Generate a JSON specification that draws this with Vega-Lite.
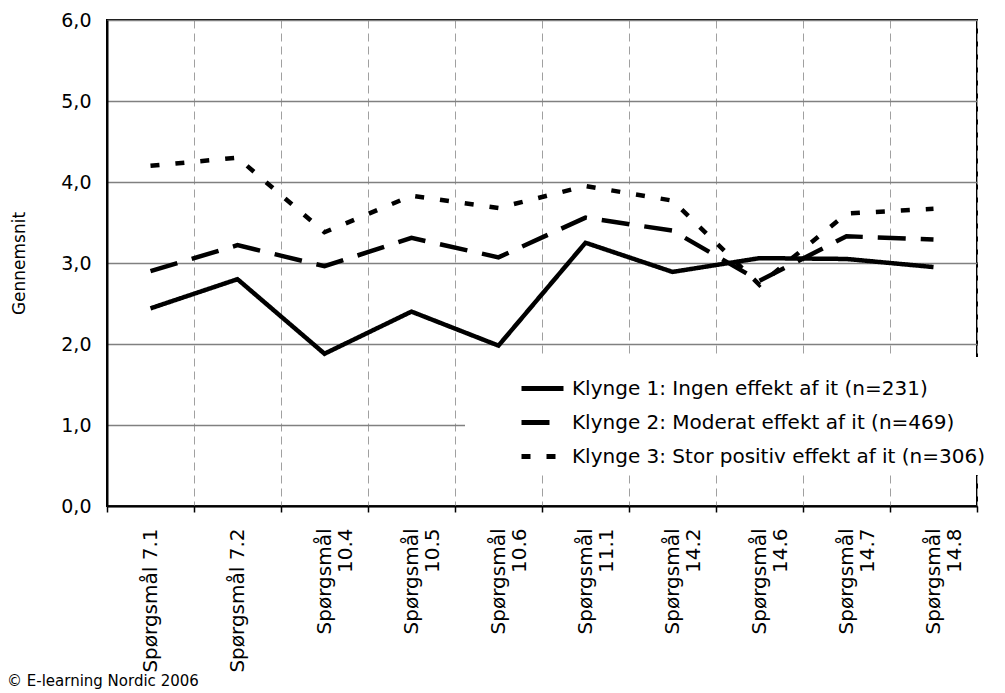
{
  "$schema": "https://vega.github.io/schema/vega-lite/v6.json",
  "width": 870,
  "height": 486,
  "autosize": "none",
  "padding": {"left": 107, "top": 20, "right": 28, "bottom": 187},
  "background": "white",
  "title": {
    "text": "© E-learning Nordic 2006",
    "orient": "bottom",
    "anchor": "start",
    "frame": "group",
    "dx": -100,
    "offset": 2,
    "font": "DejaVu Sans",
    "fontSize": 15,
    "fontWeight": "normal",
    "color": "black"
  },
  "config": {
    "font": "DejaVu Sans",
    "view": {"stroke": "black", "strokeWidth": 2}
  },
  "data": {
    "values": [
      {"q": "Spørgsmål 7.1", "k": "Klynge 1: Ingen effekt af it (n=231)", "v": 2.44},
      {"q": "Spørgsmål 7.2", "k": "Klynge 1: Ingen effekt af it (n=231)", "v": 2.80},
      {"q": "Spørgsmål 10.4", "k": "Klynge 1: Ingen effekt af it (n=231)", "v": 1.88},
      {"q": "Spørgsmål 10.5", "k": "Klynge 1: Ingen effekt af it (n=231)", "v": 2.40},
      {"q": "Spørgsmål 10.6", "k": "Klynge 1: Ingen effekt af it (n=231)", "v": 1.98},
      {"q": "Spørgsmål 11.1", "k": "Klynge 1: Ingen effekt af it (n=231)", "v": 3.25},
      {"q": "Spørgsmål 14.2", "k": "Klynge 1: Ingen effekt af it (n=231)", "v": 2.89},
      {"q": "Spørgsmål 14.6", "k": "Klynge 1: Ingen effekt af it (n=231)", "v": 3.06},
      {"q": "Spørgsmål 14.7", "k": "Klynge 1: Ingen effekt af it (n=231)", "v": 3.05},
      {"q": "Spørgsmål 14.8", "k": "Klynge 1: Ingen effekt af it (n=231)", "v": 2.95},
      {"q": "Spørgsmål 7.1", "k": "Klynge 2: Moderat effekt af it (n=469)", "v": 2.90},
      {"q": "Spørgsmål 7.2", "k": "Klynge 2: Moderat effekt af it (n=469)", "v": 3.22},
      {"q": "Spørgsmål 10.4", "k": "Klynge 2: Moderat effekt af it (n=469)", "v": 2.96},
      {"q": "Spørgsmål 10.5", "k": "Klynge 2: Moderat effekt af it (n=469)", "v": 3.31},
      {"q": "Spørgsmål 10.6", "k": "Klynge 2: Moderat effekt af it (n=469)", "v": 3.07},
      {"q": "Spørgsmål 11.1", "k": "Klynge 2: Moderat effekt af it (n=469)", "v": 3.56},
      {"q": "Spørgsmål 14.2", "k": "Klynge 2: Moderat effekt af it (n=469)", "v": 3.40},
      {"q": "Spørgsmål 14.6", "k": "Klynge 2: Moderat effekt af it (n=469)", "v": 2.78},
      {"q": "Spørgsmål 14.7", "k": "Klynge 2: Moderat effekt af it (n=469)", "v": 3.33},
      {"q": "Spørgsmål 14.8", "k": "Klynge 2: Moderat effekt af it (n=469)", "v": 3.29},
      {"q": "Spørgsmål 7.1", "k": "Klynge 3: Stor positiv effekt af it (n=306)", "v": 4.20},
      {"q": "Spørgsmål 7.2", "k": "Klynge 3: Stor positiv effekt af it (n=306)", "v": 4.30},
      {"q": "Spørgsmål 10.4", "k": "Klynge 3: Stor positiv effekt af it (n=306)", "v": 3.38},
      {"q": "Spørgsmål 10.5", "k": "Klynge 3: Stor positiv effekt af it (n=306)", "v": 3.83},
      {"q": "Spørgsmål 10.6", "k": "Klynge 3: Stor positiv effekt af it (n=306)", "v": 3.68},
      {"q": "Spørgsmål 11.1", "k": "Klynge 3: Stor positiv effekt af it (n=306)", "v": 3.95},
      {"q": "Spørgsmål 14.2", "k": "Klynge 3: Stor positiv effekt af it (n=306)", "v": 3.77},
      {"q": "Spørgsmål 14.6", "k": "Klynge 3: Stor positiv effekt af it (n=306)", "v": 2.73},
      {"q": "Spørgsmål 14.7", "k": "Klynge 3: Stor positiv effekt af it (n=306)", "v": 3.61},
      {"q": "Spørgsmål 14.8", "k": "Klynge 3: Stor positiv effekt af it (n=306)", "v": 3.67}
    ]
  },
  "mark": {"type": "line", "color": "black", "strokeWidth": 4.5, "strokeCap": "butt"},
  "encoding": {
    "x": {
      "field": "q",
      "type": "nominal",
      "sort": null,
      "scale": {"type": "band", "paddingInner": 0, "paddingOuter": 0},
      "axis": {
        "title": null,
        "tickBand": "extent",
        "labelAngle": 270,
        "labelAlign": "right",
        "labelBaseline": "middle",
        "labelOverlap": false,
        "labelExpr": "isString(datum.value) && length(datum.value) > 13 ? split(datum.value, ' ') : datum.label",
        "labelLineHeight": 21,
        "labelFontSize": 20,
        "labelColor": "black",
        "labelPadding": 16,
        "domainColor": "black",
        "domainWidth": 2,
        "tickColor": "black",
        "tickWidth": 1.5,
        "tickSize": 6,
        "grid": true,
        "gridColor": "#a0a0a0",
        "gridWidth": 1,
        "gridDash": [8, 5]
      }
    },
    "y": {
      "field": "v",
      "type": "quantitative",
      "scale": {"domain": [0, 6], "nice": false},
      "axis": {
        "title": "Gennemsnit",
        "titleFontSize": 17,
        "titleFontWeight": "normal",
        "titleColor": "black",
        "titlePadding": 32,
        "values": [0, 1, 2, 3, 4, 5, 6],
        "labelExpr": "replace(format(datum.value, '.1f'), '.', ',')",
        "labelFontSize": 19,
        "labelColor": "black",
        "labelPadding": 16,
        "ticks": false,
        "domainColor": "black",
        "domainWidth": 2,
        "grid": true,
        "gridColor": "#808080",
        "gridWidth": 1.5
      }
    },
    "strokeDash": {
      "field": "k",
      "type": "nominal",
      "scale": {"range": [[1, 0], [28, 15], [9, 16]]},
      "legend": {
        "title": null,
        "orient": "none",
        "legendX": 358,
        "legendY": 337,
        "fillColor": "white",
        "padding": 8,
        "symbolType": "stroke",
        "symbolSize": 1764,
        "symbolStrokeWidth": 5,
        "symbolStrokeColor": "black",
        "symbolOffset": 46,
        "labelOffset": 6,
        "labelFontSize": 20,
        "labelColor": "black",
        "labelLimit": 600,
        "rowPadding": 0
      }
    }
  }
}
